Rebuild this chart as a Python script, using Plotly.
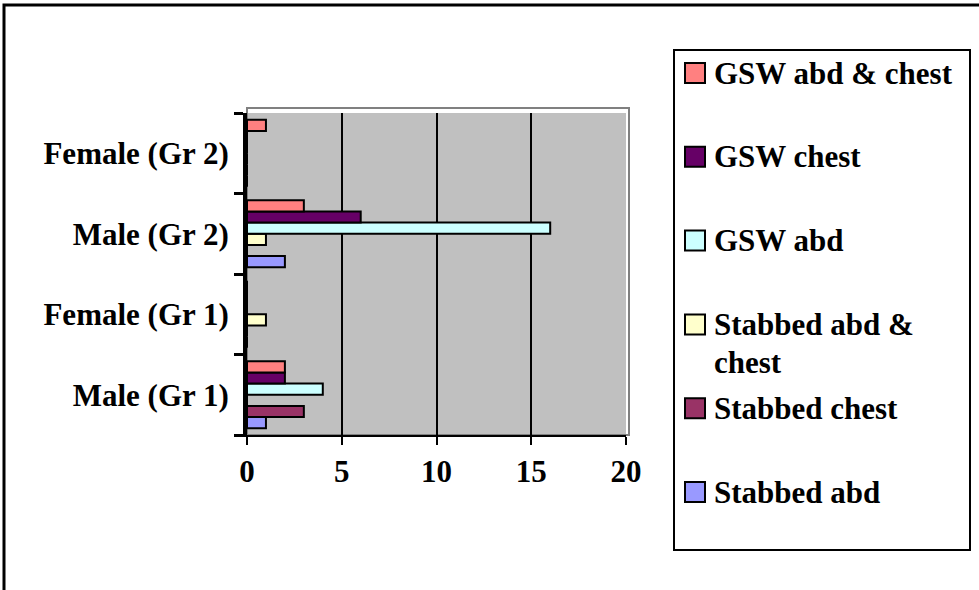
import plotly.graph_objects as go

categories = ["Male (Gr 1)", "Female (Gr 1)", "Male (Gr 2)", "Female (Gr 2)"]
series_names = ["Stabbed abd", "Stabbed chest", "Stabbed abd &<br>chest",
                "GSW abd", "GSW chest", "GSW abd & chest"]
stabbed_abd = [1, 0, 2, 0]
stabbed_chest = [3, 0, 0, 0]
stabbed_abd_chest = [0, 1, 1, 0]
gsw_abd = [4, 0, 16, 0]
gsw_chest = [2, 0, 6, 0]
gsw_abd_chest = [2, 0, 3, 1]
colors = ["#9999FF", "#993366", "#FFFFCC", "#CCFFFF", "#660066", "#FF8080"]
x_ticks = [0, 5, 10, 15, 20]

series_values = [stabbed_abd, stabbed_chest, stabbed_abd_chest,
                 gsw_abd, gsw_chest, gsw_abd_chest]

FONT = "Liberation Serif"
FS = 31

# plot-area geometry in pixels
W, H = 979, 590
L, R, T, B = 247, 353, 113, 155
PW, PH = W - L - R, H - T - B


def px_x(x):
    return (x - L) / PW


def px_y(y):
    return (H - B - y) / PH


fig = go.Figure()
for i, (name, vals) in enumerate(zip(series_names, series_values)):
    fig.add_trace(go.Bar(
        y=categories, x=vals, name=name.replace("<br>", " "), orientation="h",
        marker=dict(color=colors[i], line=dict(color="black", width=2)),
        showlegend=False,
    ))

shapes = [
    # outer chart frame
    dict(type="rect", xref="paper", yref="paper",
         x0=px_x(4), x1=px_x(W + 20), y0=px_y(H + 20), y1=px_y(5),
         line=dict(color="black", width=3), fillcolor="rgba(0,0,0,0)"),
    # plot-area wall border
    dict(type="rect", xref="paper", yref="paper",
         x0=0, x1=px_x(629), y0=0, y1=px_y(108),
         line=dict(color="#808080", width=2), fillcolor="rgba(0,0,0,0)",
         layer="below"),
    # legend box
    dict(type="rect", xref="paper", yref="paper",
         x0=px_x(674), x1=px_x(970), y0=px_y(550), y1=px_y(50),
         line=dict(color="black", width=2), fillcolor="white"),
]
annotations = []

# legend entries (top to bottom: last series first)
step = 83.8
for k, i in enumerate(reversed(range(len(series_names)))):
    cy = 73 + k * step
    shapes.append(dict(type="rect", xref="paper", yref="paper",
                       x0=px_x(685), x1=px_x(705), y0=px_y(cy + 10), y1=px_y(cy - 10),
                       line=dict(color="black", width=2), fillcolor=colors[i]))
    for j, line in enumerate(series_names[i].split("<br>")):
        annotations.append(dict(
            xref="paper", yref="paper", x=px_x(712), y=px_y(cy + j * 38),
            xanchor="left", yanchor="middle", showarrow=False, text=line,
            font=dict(family=FONT, size=FS, color="black", weight="bold"),
        ))

fig.update_layout(
    width=W, height=H,
    margin=dict(l=L, r=R, t=T, b=B),
    paper_bgcolor="white",
    plot_bgcolor="#C0C0C0",
    barmode="group",
    bargap=0.17,
    bargroupgap=0,
    font=dict(family=FONT, size=FS, color="black"),
    showlegend=False,
    xaxis=dict(
        range=[0, 20], tickvals=x_ticks,
        showgrid=True, gridcolor="black", gridwidth=2,
        showline=True, linecolor="black", linewidth=2,
        ticks="outside", ticklen=8, tickwidth=2, tickcolor="black",
        tickfont=dict(family=FONT, size=FS, weight="bold"),
        zeroline=False, mirror=False,
    ),
    yaxis=dict(
        categoryorder="array", categoryarray=categories,
        showline=True, linecolor="black", linewidth=4,
        ticks="outside", ticklen=9, tickwidth=3, tickcolor="black",
        tickson="boundaries",
        ticklabelstandoff=8,
        tickfont=dict(family=FONT, size=FS, weight="bold"),
        showgrid=False,
    ),
    shapes=shapes,
    annotations=annotations,
)

fig.write_html("out.html")
